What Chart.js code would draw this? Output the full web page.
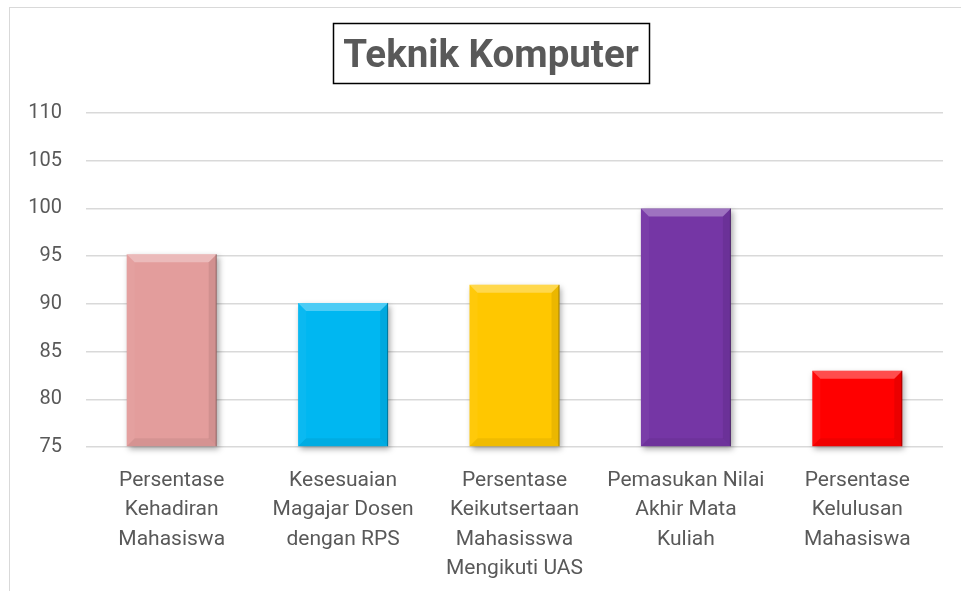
<!DOCTYPE html>
<html>
<head>
<meta charset="utf-8">
<script src="https://cdn.jsdelivr.net/npm/chart.js@4/dist/chart.umd.min.js"></script>
<style>
    body { margin: 0; overflow: hidden; background: #fff; }
    #wrap { position: relative; width: 961px; height: 591px; }
    #frame {
        position: absolute; left: 9px; top: 7px; width: 1000px; height: 1000px;
        border-left: 1px solid #d9d9d9; border-top: 1px solid #d9d9d9;
    }
    #chartTK { position: absolute; left: 0; top: 0; }
</style>
</head>
<body>
<div id="wrap">
    <div id="frame"></div>
    <canvas id="chartTK" width="961" height="591"></canvas>
</div>
<script>
// Data grafik
const judul = "Teknik Komputer";
const kategori = [
    ["Persentase", "Kehadiran", "Mahasiswa"],
    ["Kesesuaian", "Magajar Dosen", "dengan RPS"],
    ["Persentase", "Keikutsertaan", "Mahasisswa", "Mengikuti UAS"],
    ["Pemasukan Nilai", "Akhir Mata", "Kuliah"],
    ["Persentase", "Kelulusan", "Mahasiswa"]
];
const nilai = [95.2, 90.1, 92, 100, 83];
const warnaBatang = ["#E39D9C", "#00B7F1", "#FFC700", "#7536A5", "#FF0000"];
const tickY = [75, 80, 85, 90, 95, 100, 105, 110];

const warnaTeks = "#595959";

// ðŸ”¹ Judul dengan kotak
const judulPlugin = {
    id: "judulKotak",
    afterDraw(chart) {
        const ctx = chart.ctx;
        ctx.save();
        ctx.font = "bold 38.5px Roboto";
        const w = ctx.measureText(judul).width;
        const cx = 491;
        ctx.fillStyle = warnaTeks;
        ctx.textAlign = "center";
        ctx.textBaseline = "alphabetic";
        ctx.fillText(judul, cx, 67);
        ctx.strokeStyle = "#000";
        ctx.lineWidth = 1.5;
        ctx.strokeRect(Math.round(cx - w / 2 - 10) + 0.5, 23.5, Math.round(w + 20), 60);
        ctx.restore();
    }
};

// ðŸ”¹ Efek bevel + bayangan pada batang
const bevelPlugin = {
    id: "bevel",
    beforeDatasetsDraw(chart) {
        const ctx = chart.ctx;
        ctx.save();
        ctx.shadowColor = "rgba(0,0,0,0.35)";
        ctx.shadowBlur = 6;
        ctx.shadowOffsetX = 2;
        ctx.shadowOffsetY = 3;
    },
    afterDatasetsDraw(chart) {
        const ctx = chart.ctx;
        ctx.restore();
        ctx.save();
        chart.getDatasetMeta(0).data.forEach(bar => {
            const L = bar.x - bar.width / 2, R = bar.x + bar.width / 2;
            const T = bar.y, B = bar.base;
            const b = 8;
            const poly = (pts, fill) => {
                ctx.beginPath();
                ctx.moveTo(pts[0][0], pts[0][1]);
                pts.slice(1).forEach(p => ctx.lineTo(p[0], p[1]));
                ctx.closePath();
                ctx.fillStyle = fill;
                ctx.fill();
            };
            poly([[L, T], [R, T], [R - b, T + b], [L + b, T + b]], "rgba(255,255,255,0.30)");
            poly([[R, T], [R, B], [R - b, B - b], [R - b, T + b]], "rgba(0,0,0,0.08)");
            poly([[L, B], [R, B], [R - b, B - b], [L + b, B - b]], "rgba(0,0,0,0.06)");
            poly([[L, T], [L + b, T + b], [L + b, B - b], [L, B]], "rgba(255,255,255,0.04)");
            ctx.strokeStyle = "rgba(0,0,0,0.30)";
            ctx.lineWidth = 1;
            ctx.beginPath();
            ctx.moveTo(R - 0.5, T);
            ctx.lineTo(R - 0.5, B);
            ctx.stroke();
        });
        ctx.restore();
    }
};

document.addEventListener("DOMContentLoaded", function () {
    const ctx = document.getElementById("chartTK").getContext("2d");

    new Chart(ctx, {
        type: "bar",
        data: {
            labels: kategori,
            datasets: [{
                data: nilai,
                base: tickY[0],
                backgroundColor: warnaBatang,
                borderWidth: 0,
                barPercentage: 0.525,
                categoryPercentage: 1,
                clip: false
            }]
        },
        options: {
            responsive: false,
            animation: false,
            layout: { padding: { left: 28, right: 18, top: 113, bottom: 9 } },
            scales: {
                x: {
                    grid: { display: false },
                    border: { display: false },
                    ticks: {
                        color: warnaTeks,
                        font: { family: "Roboto", size: 21, lineHeight: 1.4 },
                        padding: 11,
                        maxRotation: 0,
                        autoSkip: false
                    },
                    afterFit(scale) {
                        scale.height = 135;
                        scale.paddingLeft = 0;
                        scale.paddingRight = 0;
                    }
                },
                y: {
                    min: tickY[0],
                    max: tickY[tickY.length - 1],
                    border: { display: false },
                    grid: { color: "#d9d9d9", lineWidth: 1.5, drawTicks: false },
                    ticks: {
                        stepSize: tickY[1] - tickY[0],
                        color: warnaTeks,
                        font: { family: "Roboto", size: 20 },
                        padding: 24
                    },
                    afterFit(scale) {
                        scale.width = 58;
                    }
                }
            },
            plugins: {
                legend: { display: false },
                title: { display: false },
                tooltip: { enabled: false }
            }
        },
        plugins: [judulPlugin, bevelPlugin]
    });
});
</script>
</body>
</html>
